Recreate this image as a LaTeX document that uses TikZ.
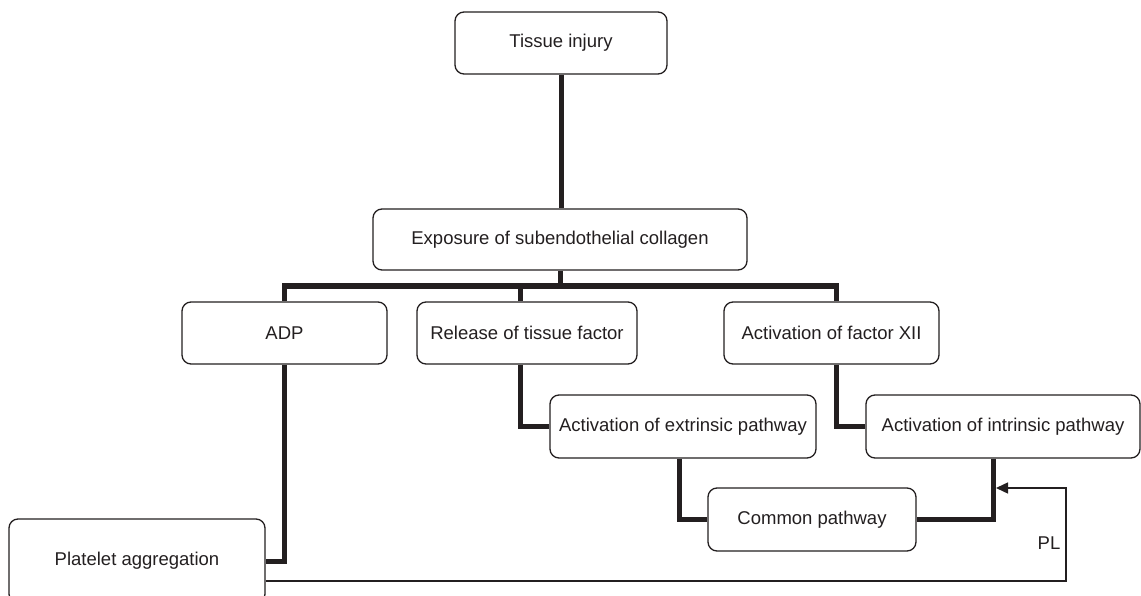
\documentclass[tikz,border=0pt]{standalone}
\usepackage{fontspec}
\setmainfont{Liberation Sans}
\usetikzlibrary{arrows.meta,backgrounds}
\definecolor{ink}{HTML}{231F20}
\begin{document}
\begin{tikzpicture}[x=1pt,y=-1pt,
  box/.style={draw=ink, line width=1.3pt, rounded corners=9pt, fill=white,
    text=ink, inner sep=0pt, align=center,
    font=\fontsize{18.5}{22}\selectfont},
  link/.style={draw=ink, line width=5pt},
  fb/.style={draw=ink, line width=1.5pt, -{Triangle[length=12pt,width=11pt]}},
  lbl/.style={text=ink, font=\fontsize{18.5}{22}\selectfont, inner sep=0pt}]
\useasboundingbox (0,0) rectangle (1141,596);

% boxes
\node[box, minimum width=212pt, minimum height=62pt] (tissue) at (561,43) {Tissue injury};
\node[box, minimum width=374pt, minimum height=61pt] (expo) at (560,239.5) {Exposure of subendothelial collagen};
\node[box, minimum width=205pt, minimum height=62pt] (adp) at (284.5,333) {ADP};
\node[box, minimum width=220pt, minimum height=62pt] (rel) at (527,333) {Release of tissue factor};
\node[box, minimum width=215pt, minimum height=62pt] (f12) at (831.5,333) {Activation of factor XII};
\node[box, minimum width=266pt, minimum height=63pt] (ext) at (683,426.5) {Activation of extrinsic pathway};
\node[box, minimum width=274pt, minimum height=63pt] (intr) at (1003,426.5) {Activation of intrinsic pathway};
\node[box, minimum width=208pt, minimum height=63pt] (com) at (812,519.5) {Common pathway};
\node[box, minimum width=256pt, minimum height=84pt] (plat) at (137,561) {Platelet aggregation};

% branching points
\coordinate (bus) at (560,286);
\coordinate (fbcorner) at (1066,488);
\coordinate (fbtip) at (996,488);

\begin{scope}[on background layer]
  \draw[link] (tissue.south) -- (tissue.south |- expo.north);
  \draw[link] (expo.south) -- (expo.south |- bus);
  \draw[link] ([xshift=-0.5pt]adp.north) |- (bus) -| ([xshift=4.5pt]f12.north);
  \draw[link] ([xshift=-7pt]rel.north) -- ([xshift=-7pt]rel.north |- bus);
  \draw[link] ([xshift=-7pt]rel.south) |- (ext.west);
  \draw[link] ([xshift=4.5pt]f12.south) |- (intr.west);
  \draw[link] ([xshift=-4pt]ext.south) |- (com.west);
  \draw[link] ([xshift=-10pt]intr.south) |- (com.east);
  \draw[link] ([xshift=-0.5pt]adp.south) |- (plat.east);
\end{scope}

% feedback loop
\draw[fb] ([yshift=-20pt]plat.east) -| (fbcorner) -- (fbtip);
\node[lbl] (pl) at (1049,543) {PL};
\end{tikzpicture}
\end{document}
